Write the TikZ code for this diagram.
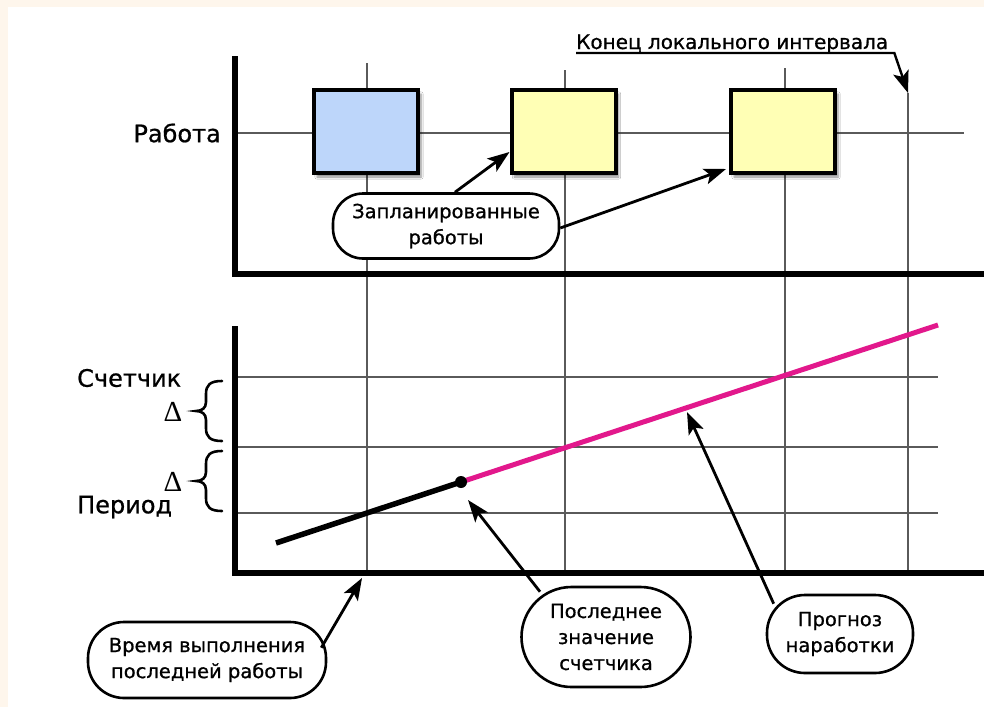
\documentclass[tikz,border=0pt]{standalone}
\usepackage{fontspec}
\setmainfont{DejaVu Sans}[FakeBold=0.8]
\newfontfamily\deltafont{Liberation Serif}
\usetikzlibrary{arrows.meta,calc,shadows.blur}
\definecolor{peach}{HTML}{FEF6EC}
\definecolor{jobblue}{HTML}{BDD6FA}
\definecolor{jobyellow}{HTML}{FFFFB5}
\definecolor{forecast}{HTML}{E2188C}
\definecolor{gridgray}{HTML}{5A5A5A}
\tikzset{
  axisline/.style={line width=5.5pt},
  gridline/.style={line width=1.4pt, draw=gridgray},
  jobbox/.style={draw, line width=4pt, minimum width=104pt, minimum height=83pt, inner sep=0pt,
    blur shadow={shadow xshift=3pt, shadow yshift=-4pt, shadow blur steps=6, shadow opacity=45}},
  callout/.style={draw, line width=2.6pt, fill=white, align=center, inner sep=0pt,
    font=\fontsize{19.5}{26}\selectfont},
  pointer/.style={line width=2.8pt, -{Stealth[length=22pt,width=16pt,inset=5pt]}},
  axislabel/.style={font=\fontsize{24}{28}\selectfont, inner sep=0pt},
  deltalabel/.style={font=\deltafont\fontsize{29}{32}\selectfont, inner sep=0pt},
  curlybrace/.pic={\draw[line width=2.6pt, line cap=round]
    (16,-30) .. controls (4,-30) and (0,-26) .. (0,-17) -- (0,-9)
    .. controls (0,-3) and (-4,0) .. (-10,0)
    .. controls (-4,0) and (0,3) .. (0,9) -- (0,17)
    .. controls (0,26) and (4,30) .. (16,30);}
}
\begin{document}
\begin{tikzpicture}[x=1pt,y=-1pt]
\fill[white] (0,0) rectangle (984,707);
\fill[peach] (0,0) rectangle (984,7);
\fill[peach] (0,0) rectangle (8,707);
\useasboundingbox (0,0) rectangle (984,707);

% end of local interval marker
\coordinate (iend) at (908,93);

% vertical grid lines
\draw[gridline] (367,63) -- (367,573);
\draw[gridline] (565,70) -- (565,573);
\draw[gridline] (785,68) -- (785,573);
\draw[gridline] (iend) -- (908,573);

% work line
\draw[gridline] (238,133) -- (964,133);

% lower horizontal grid lines
\draw[gridline] (238,377) -- (938,377);
\draw[gridline] (238,447) -- (938,447);
\draw[gridline] (238,513) -- (938,513);

% axes
\draw[axisline] (235,56) -- (235,274) -- (984,274);
\draw[axisline] (235,326) -- (235,573) -- (984,573);

% job boxes
\node[jobbox, fill=jobblue] (b1) at (366,131.5) {};
\node[jobbox, fill=jobyellow] (b2) at (563.5,131.5) {};
\node[jobbox, fill=jobyellow] (b3) at (783,131.5) {};

% labels
\node[axislabel, anchor=east] (work) at (221,133) {Работа};
\node[axislabel, anchor=west] (cnt) at (77,378) {Счетчик};
\node[axislabel, anchor=west] (per) at (77,507) {Период};
\node[deltalabel] (d1) at (173,412) {Δ};
\node[deltalabel] (d2) at (173,482) {Δ};
\pic at (206,411) {curlybrace};
\pic at (206,481) {curlybrace};

% counter data
\coordinate (start) at (276,543);
\coordinate (last) at (461,482);
\coordinate (fend) at (938,325);
\draw[line width=5pt, forecast] (last) -- (fend);
\draw[line width=5.5pt] (start) -- (last);
\fill (last) circle (6pt);

% end of interval label
\node[font=\fontsize{20}{24}\selectfont, inner sep=0pt, anchor=base west] (kend) at (576,49) {Конец локального интервала};
\draw[pointer, line width=2.4pt] ($(kend.base west)+(0,4)$) -- ($(kend.base east)+(6,4)$) -- (iend);

% callouts
\node[callout, minimum width=226pt, minimum height=65pt, rounded corners=30pt] (c1) at (446,226) {Запланированные\\работы};
\node[callout, minimum width=238pt, minimum height=76pt, rounded corners=36pt] (c2) at (207,660) {Время выполнения\\последней работы};
\node[callout, minimum width=169pt, minimum height=100pt, rounded corners=50pt] (c3) at (606,637) {Последнее\\значение\\счетчика};
\node[callout, minimum width=146pt, minimum height=78pt, rounded corners=38pt] (c4) at (840,634) {Прогноз\\наработки};

% pointers
\draw[pointer] ($(c1.north)+(9,0)$) -- ($(b2.south west)+(0,-23)$);
\draw[pointer] ($(c1.east)+(0,2)$) -- ($(b3.south west)+(-3,-6)$);
\draw[pointer] ($(c2.north east)+(-6,27)$) -- ($(367,573)+(-5,5)$);
\draw[pointer] ($(c3.north)+(-66,6)$) -- ($(last)+(7,18)$);
\draw[pointer] ($(c4.north west)+(8,10)$) -- (687,412);
\end{tikzpicture}
\end{document}
